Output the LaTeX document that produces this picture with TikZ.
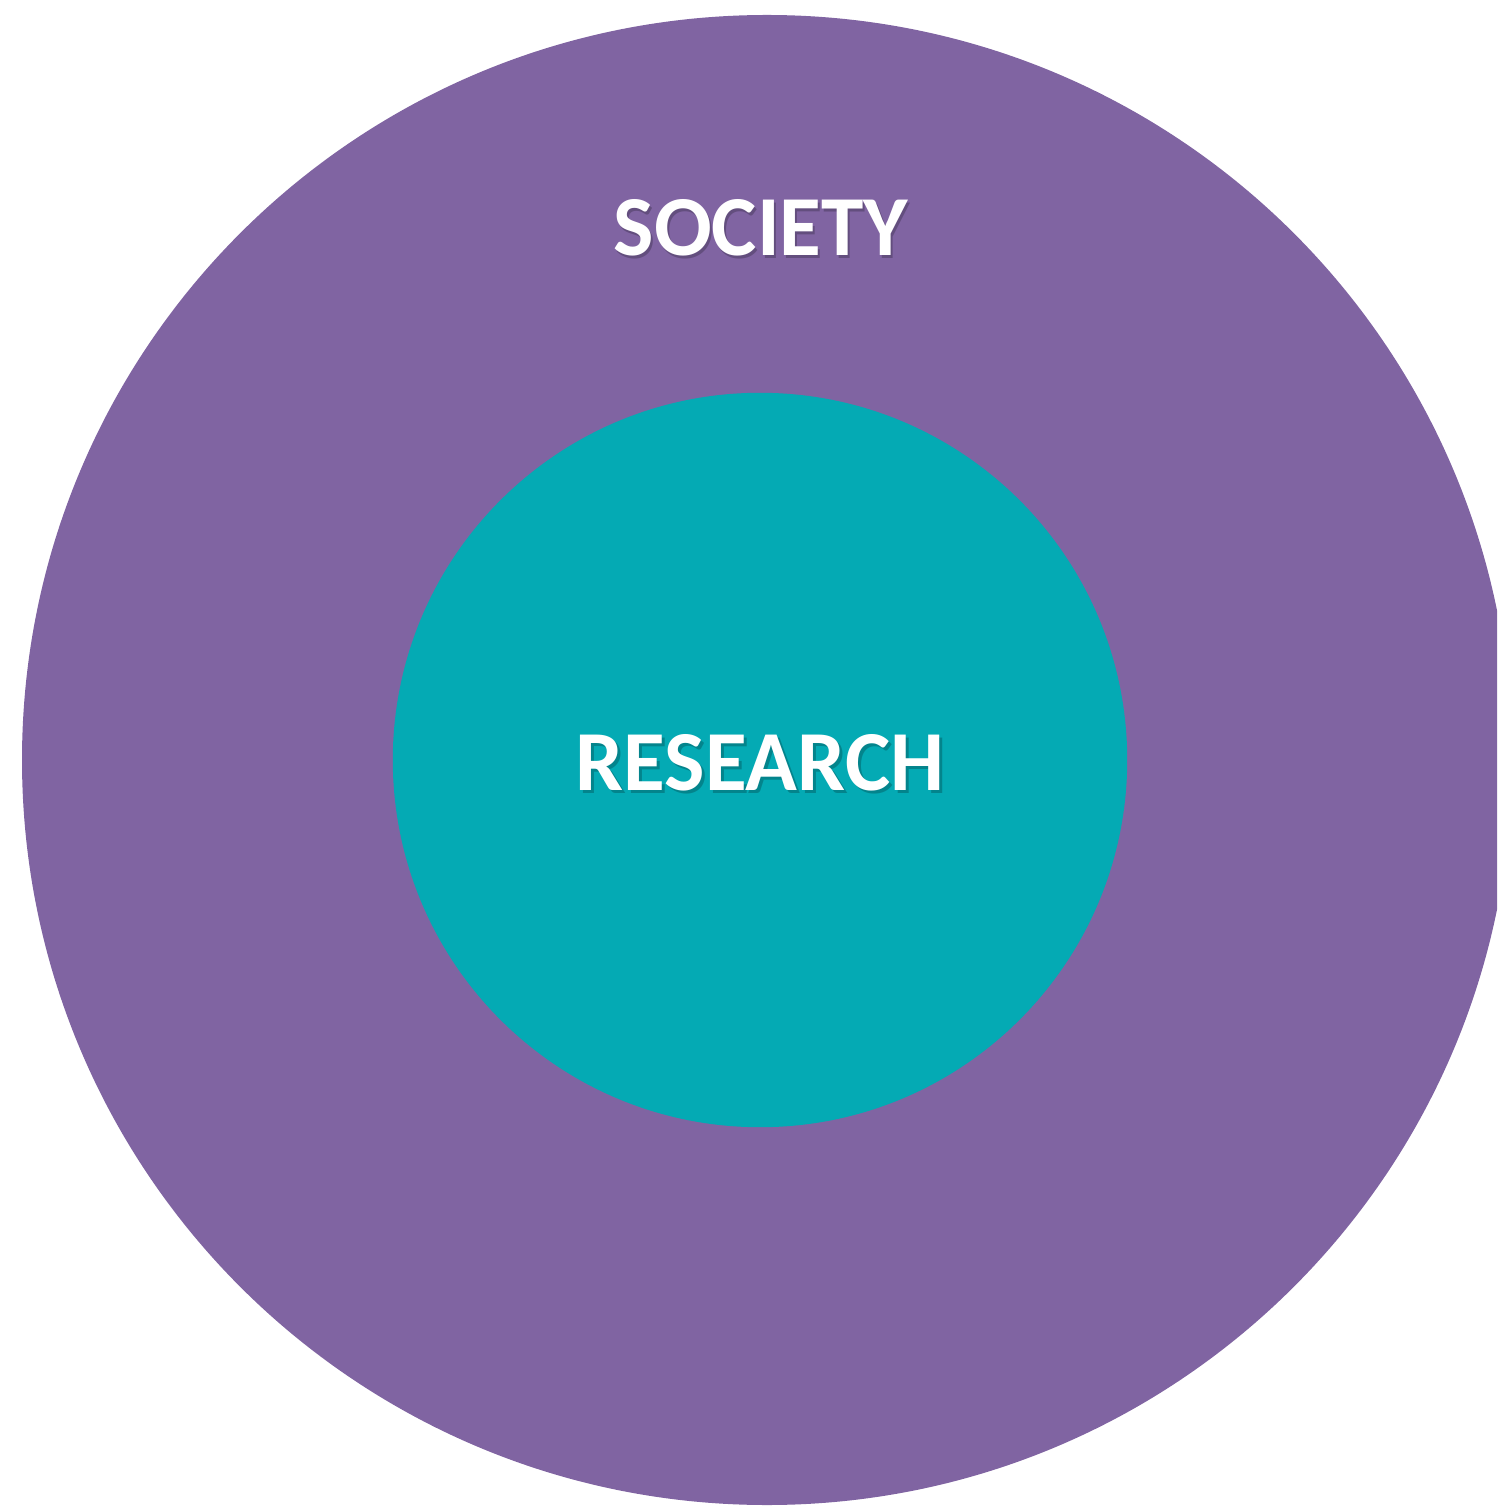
\documentclass[tikz,border=0pt]{standalone}
\usepackage{fontspec}
\setmainfont{Carlito}
\definecolor{socpurple}{HTML}{8064A2}
\definecolor{resteal}{HTML}{04AAB4}
\tikzset{
  label text/.style={font=\fontsize{24.3}{28}\selectfont\bfseries, text=white, inner sep=0pt},
  label shadow/.style={font=\fontsize{24.3}{28}\selectfont\bfseries, text=black, text opacity=0.22, inner sep=0pt},
}
\begin{document}
\begin{tikzpicture}[x=0.01cm,y=-0.01cm]
\useasboundingbox (0,0) rectangle (1497,1507);
\clip (0,0) rectangle (1497,1507);
\fill[socpurple] (767,760) circle (745);
\node[circle, fill=resteal, minimum size=7.34cm, inner sep=0pt] (research circle) at (760,760) {};
\node[label shadow] (society shadow) at (763,231) {SOCIETY};
\node[label text] (society) at (761,228) {SOCIETY};
\node[label shadow] (research shadow) at (763,766) {RESEARCH};
\node[label text] (research) at (760,763) {RESEARCH};
\end{tikzpicture}
\end{document}
